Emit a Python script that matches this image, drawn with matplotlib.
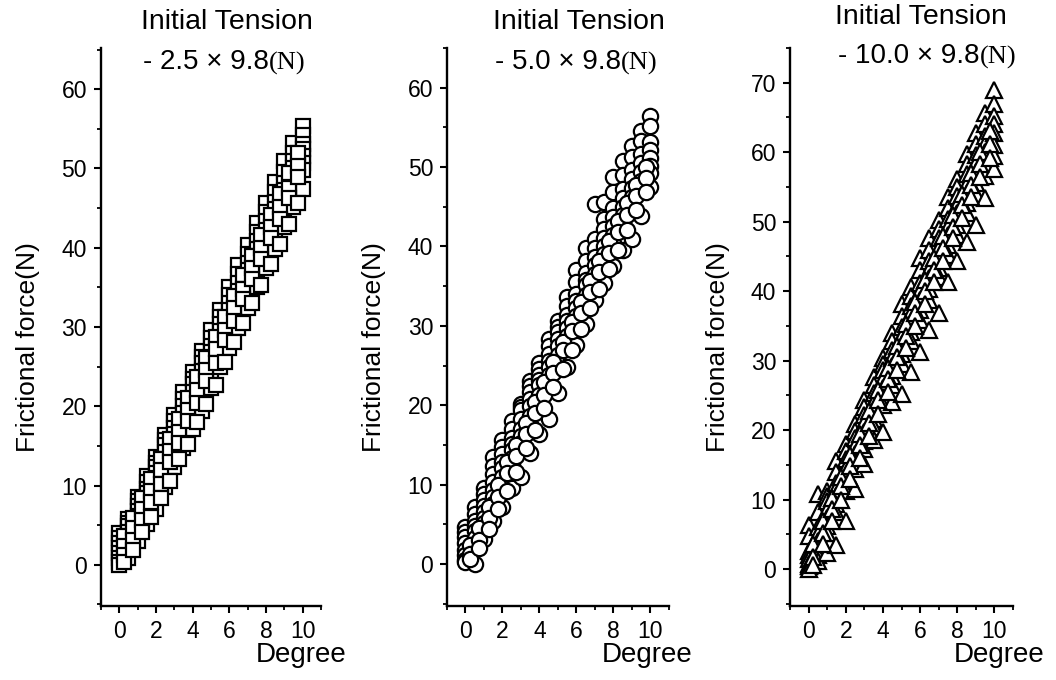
"""Frictional force vs degree for three initial tensions."""

import matplotlib
matplotlib.use('Agg')
import matplotlib.pyplot as plt
from matplotlib.ticker import MultipleLocator

plt.rcParams['font.family'] = 'Liberation Sans'

# x grids (degree)
deg_a = [0, 0.5, 1, 1.5, 2, 2.5, 3, 3.5, 4, 4.5, 5, 5.5, 6, 6.5, 7, 7.5, 8, 8.5, 9, 9.5, 10]
deg_b = [0.25, 0.75, 1.25, 1.75, 2.25, 2.75, 3.25, 3.75, 4.25, 4.75, 5.25, 5.75, 6.25, 6.75,
         7.25, 7.75, 8.25, 8.75, 9.25, 9.75]

# 2.5 x 9.8 N  (squares)
sq_runs_a = [
    [4.0, 5.8, 8.6, 11.2, 13.6, 16.4, 18.9, 21.8, 24.3, 27.0, 29.6, 32.2, 35.1, 37.8, 40.4, 43.1, 45.6, 48.3, 50.9, 53.2, 55.4],
    [3.4, 5.3, 8.0, 10.4, 12.9, 15.8, 18.1, 20.9, 23.5, 26.2, 28.6, 31.3, 34.0, 36.7, 39.2, 42.0, 44.5, 47.0, 49.6, 52.0, 54.2],
    [2.8, 4.9, 7.4, 9.6, 12.3, 15.1, 17.2, 20.0, 22.8, 25.4, 27.6, 30.4, 33.0, 35.6, 38.1, 40.8, 43.4, 45.8, 48.2, 50.9, 53.1],
    [2.1, 4.2, 6.8, 9.0, 11.6, 14.2, 16.5, 19.1, 21.8, 24.5, 26.9, 29.5, 32.1, 34.6, 37.2, 39.8, 42.3, 44.9, 47.3, 50.0, 52.4],
    [1.5, 3.6, 6.2, 8.4, 10.9, 13.4, 15.8, 18.3, 20.9, 23.6, 26.2, 28.6, 31.2, 33.7, 36.4, 38.9, 41.3, 44.0, 46.5, 49.1, 51.6],
    [0.9, 2.9, 5.4, 7.8, 10.2, 12.6, 15.2, 17.5, 20.2, 22.7, 25.3, 27.8, 30.4, 32.9, 35.5, 38.0, 40.6, 43.1, 45.7, 48.3, 50.7],
    [0.4, 2.3, 4.6, 7.1, 9.5, 11.8, 14.6, 16.8, 19.5, 21.9, 24.5, 27.0, 29.6, 32.1, 34.7, 37.2, 39.8, 42.3, 44.9, 47.6, 49.8],
    [0.0, 0.8, 3.0, 5.2, 7.0, 9.8, 12.3, 14.7, 17.1, 19.4, 22.3, 25.0, 27.3, 29.9, 32.4, 35.0, 37.4, 39.8, 42.6, 45.1, 47.4],
]
sq_runs_b = [
    [3.6, 5.9, 8.4, 10.8, 13.3, 15.9, 18.4, 21.1, 23.7, 26.1, 28.7, 31.3, 33.9, 36.5, 39.0, 41.6, 44.1, 46.8, 49.4, 52.0],
    [2.4, 4.6, 7.0, 9.3, 11.9, 14.4, 16.8, 19.5, 22.0, 24.6, 27.2, 29.6, 32.4, 34.8, 37.5, 40.0, 42.6, 45.1, 47.6, 50.3],
    [1.2, 3.1, 5.6, 7.9, 10.2, 13.0, 15.4, 18.1, 20.4, 23.2, 25.5, 28.4, 30.7, 33.5, 36.0, 38.6, 41.2, 43.6, 46.3, 48.9],
    [0.3, 1.9, 4.1, 6.0, 8.4, 10.6, 13.3, 15.2, 18.0, 20.3, 22.7, 25.6, 28.1, 30.5, 33.0, 35.3, 38.0, 40.5, 43.0, 45.6],
]

# 5.0 x 9.8 N  (circles)
ci_runs_a = [
    [4.7, 7.2, 9.6, 13.5, 15.6, 18.0, 20.2, 23.1, 25.3, 28.3, 30.6, 33.6, 37.0, 39.8, 45.4, 45.6, 48.8, 50.8, 52.6, 54.6, 56.4],
    [4.0, 6.3, 8.8, 12.4, 14.7, 17.0, 19.8, 22.4, 24.6, 27.4, 29.9, 32.5, 35.5, 38.2, 41.0, 43.5, 46.8, 49.0, 51.3, 53.3, 55.2],
    [3.4, 5.4, 8.0, 11.3, 13.8, 15.9, 19.4, 21.6, 23.8, 26.5, 29.2, 31.4, 34.0, 36.6, 39.8, 42.2, 44.9, 47.3, 49.6, 51.6, 53.2],
    [2.6, 4.8, 7.3, 10.3, 12.9, 15.1, 18.2, 20.8, 23.2, 25.6, 28.3, 30.6, 33.1, 35.8, 38.7, 41.1, 43.7, 46.1, 48.5, 50.5, 52.2],
    [1.8, 4.2, 6.6, 9.3, 12.1, 14.3, 17.0, 19.9, 22.6, 24.8, 27.4, 29.7, 32.2, 35.1, 37.6, 40.1, 42.6, 45.0, 47.4, 49.4, 51.1],
    [1.1, 3.3, 5.8, 8.4, 11.0, 13.4, 16.1, 18.7, 21.3, 23.8, 26.3, 28.7, 31.3, 33.9, 36.5, 39.0, 41.5, 43.9, 46.2, 48.3, 50.1],
    [0.5, 2.5, 5.1, 7.6, 10.0, 12.6, 15.2, 17.6, 20.1, 22.8, 25.2, 27.8, 30.4, 32.8, 35.4, 37.9, 40.4, 42.9, 45.1, 47.4, 49.2],
    [0.2, 0.0, 3.2, 5.4, 7.2, 9.6, 11.0, 14.0, 16.4, 18.2, 21.5, 24.8, 27.6, 30.2, 33.3, 35.4, 37.5, 39.6, 40.9, 43.8, 47.5],
]
ci_runs_b = [
    [2.4, 4.5, 7.2, 10.0, 12.8, 15.0, 17.8, 20.4, 22.9, 25.4, 28.0, 30.5, 33.0, 35.6, 38.2, 40.7, 43.2, 45.5, 47.8, 50.0],
    [1.2, 3.0, 5.8, 8.4, 11.5, 13.6, 16.4, 19.0, 21.3, 24.1, 26.9, 29.4, 31.6, 34.3, 36.8, 39.2, 41.8, 44.0, 46.3, 48.6],
    [0.6, 2.0, 4.4, 6.9, 9.2, 11.6, 14.6, 16.9, 19.7, 22.3, 24.6, 27.0, 29.6, 32.2, 34.6, 37.1, 39.6, 42.1, 44.6, 46.9],
]

# 10.0 x 9.8 N  (triangles)
tr_runs_a = [
    [6.4, 10.8, 11.2, 15.6, 18.0, 20.9, 24.3, 27.6, 30.4, 34.0, 38.2, 40.6, 44.8, 47.6, 50.3, 53.6, 56.2, 59.8, 62.8, 65.6, 68.9],
    [4.8, 8.2, 10.6, 14.0, 17.0, 19.9, 23.3, 26.5, 29.5, 32.8, 36.4, 39.3, 43.0, 46.0, 49.0, 52.0, 55.0, 58.3, 61.2, 64.0, 67.0],
    [2.6, 6.1, 9.8, 12.4, 15.8, 18.9, 22.2, 25.4, 28.6, 31.5, 34.8, 37.9, 41.2, 44.4, 47.6, 50.4, 53.7, 56.8, 59.6, 62.4, 65.2],
    [2.0, 5.0, 8.5, 11.5, 14.6, 17.7, 21.0, 24.1, 27.3, 30.4, 33.6, 36.8, 40.0, 43.1, 46.2, 49.3, 52.4, 55.5, 58.4, 61.2, 64.0],
    [1.4, 4.0, 7.3, 10.6, 13.4, 16.6, 19.8, 22.9, 26.1, 29.2, 32.4, 35.6, 38.7, 41.9, 44.8, 48.1, 51.2, 54.2, 57.1, 60.0, 62.8],
    [0.8, 3.0, 6.2, 9.4, 12.3, 15.5, 18.5, 21.6, 24.8, 27.8, 31.0, 34.2, 37.3, 40.3, 43.4, 46.6, 49.6, 52.7, 55.6, 58.3, 61.1],
    [0.4, 2.0, 5.2, 8.2, 11.3, 14.4, 17.3, 20.4, 23.6, 26.5, 29.5, 32.8, 35.9, 38.8, 42.0, 45.2, 48.1, 51.2, 54.0, 56.6, 59.4],
    [0.0, 1.2, 2.4, 3.5, 6.9, 11.5, 15.2, 18.6, 19.8, 24.0, 25.2, 28.4, 31.3, 34.4, 36.8, 41.3, 44.3, 47.1, 49.5, 53.4, 57.6],
]
tr_runs_b = [
    [3.6, 7.0, 10.2, 13.2, 16.4, 19.5, 22.7, 25.8, 29.0, 32.1, 35.3, 38.5, 41.6, 44.8, 47.9, 51.0, 54.0, 57.0, 60.0, 63.0],
    [1.8, 5.2, 8.6, 11.9, 14.9, 17.8, 21.1, 24.3, 27.4, 30.5, 33.6, 36.9, 40.0, 43.1, 46.2, 49.3, 52.4, 55.3, 58.3, 61.2],
    [0.6, 3.6, 6.9, 10.0, 13.0, 16.0, 19.2, 22.4, 25.5, 28.6, 31.8, 35.0, 38.2, 41.3, 44.4, 47.6, 50.6, 53.6, 56.4, 59.2],
]

tensions = ['2.5', '5.0', '10.0']

fig = plt.figure(figsize=(10.56, 6.8), dpi=100)

panels = [
    # axes rect, ylim, marker, size, runs a, runs b
    ([0.0956, 0.1088, 0.2083, 0.8206], (-5.2, 65.2), 's', 10, sq_runs_a, sq_runs_b),
    ([0.4233, 0.1088, 0.2100, 0.8206], (-5.3, 65.0), 'o', 11, ci_runs_a, ci_runs_b),
    ([0.7481, 0.1088, 0.2112, 0.8206], (-5.3, 75.0), '^', 12, tr_runs_a, tr_runs_b),
]

axes = []
for rect, ylim, mk, ms, runs_a, runs_b in panels:
    ax = fig.add_axes(rect)
    for ys in runs_a:
        ax.plot(deg_a, ys, linestyle='none', marker=mk, ms=ms, mfc='white', mec='black', mew=1.6)
    for ys in runs_b:
        ax.plot(deg_b, ys, linestyle='none', marker=mk, ms=ms, mfc='white', mec='black', mew=1.6)
    ax.set_xlim(-1, 11)
    ax.set_ylim(*ylim)
    ax.spines['top'].set_visible(False)
    ax.spines['right'].set_visible(False)
    ax.spines['left'].set_linewidth(1.7)
    ax.spines['bottom'].set_linewidth(1.7)
    ax.xaxis.set_major_locator(MultipleLocator(2))
    ax.xaxis.set_minor_locator(MultipleLocator(1))
    ax.yaxis.set_major_locator(MultipleLocator(10))
    ax.yaxis.set_minor_locator(MultipleLocator(5))
    ax.tick_params(which='major', direction='out', length=5, width=1.5, labelsize=16.5, pad=5)
    ax.tick_params(which='minor', direction='out', length=3, width=1.3)
    ax.set_xticks([t for t in range(0, 11, 2)])
    axes.append(ax)

# titles and labels (figure coords)
title_x = [0.215, 0.548, 0.872]
title_y = [0.968, 0.968, 0.975]
sub_x = [0.135, 0.469, 0.794]
sub_y = [0.909, 0.909, 0.918]
ylab_x = [0.0265, 0.354, 0.680]
xlab_x = [0.285, 0.613, 0.946]

for i in range(3):
    fig.text(title_x[i], title_y[i], 'Initial Tension', ha='center', va='center', fontsize=20.5)
    t = fig.text(sub_x[i], sub_y[i], '- %s \u00d7 9.8' % tensions[i], ha='left', va='center', fontsize=20)
    axes[i].annotate('(N)', xy=(1, 0), xycoords=t, ha='left', va='bottom', fontsize=19,
                     family='Liberation Serif', annotation_clip=False)
    fig.text(ylab_x[i], 0.49, 'Frictional force(N)', rotation=90, ha='center', va='center', fontsize=19)
    fig.text(xlab_x[i], 0.037, 'Degree', ha='center', va='center', fontsize=20)

fig.savefig('out.png', dpi=100)
